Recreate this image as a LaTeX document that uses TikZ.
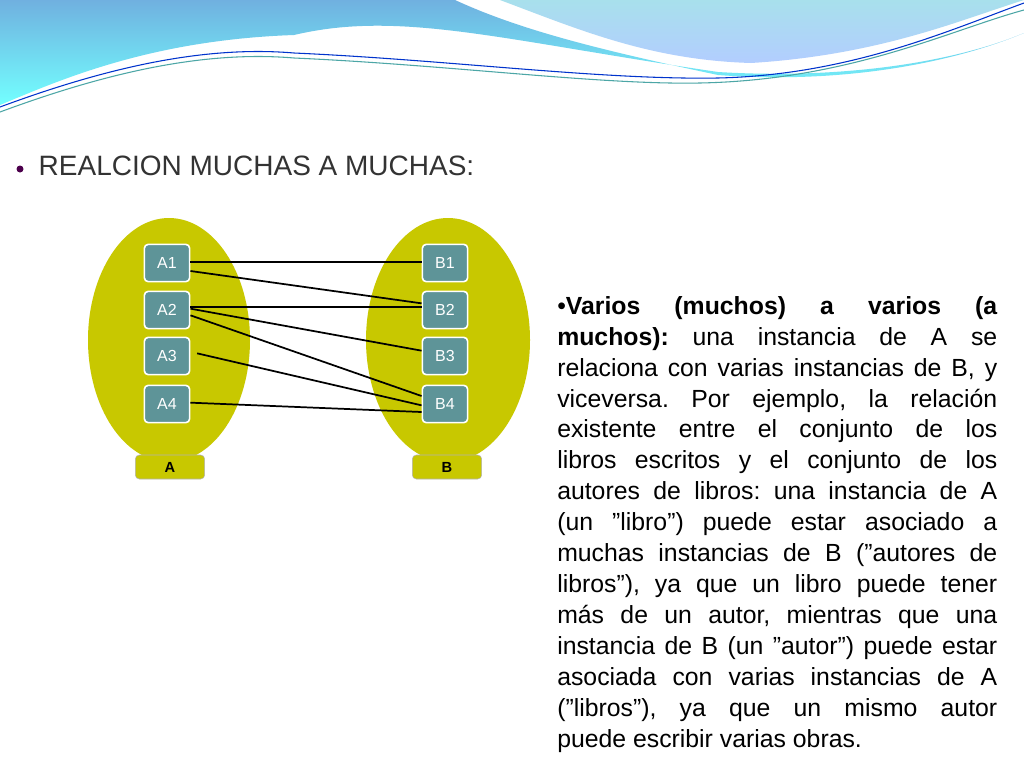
\documentclass[tikz,border=0pt]{standalone}
\usepackage{fontspec}
\defaultfontfeatures{}
\setmainfont{Liberation Sans}
\definecolor{ell}{HTML}{C8C800}
\definecolor{box}{HTML}{5E9498}
\definecolor{wave1}{HTML}{7CC4DC}
\definecolor{wave2}{HTML}{A8E0EC}
\begin{document}
\begin{tikzpicture}[x=0.75pt,y=-0.75pt,
  elem/.style={draw=white,line width=1.2pt,fill=box,rounded corners=3pt,minimum width=34pt,minimum height=28pt,text=white,font=\fontsize{12}{14}\selectfont},
  setl/.style={draw=gray!60,fill=ell,rounded corners=3pt,minimum width=52pt,minimum height=18pt,font=\bfseries\fontsize{11}{13}\selectfont},
  link/.style={line width=1.3pt}]
\useasboundingbox (0,0) rectangle (1024,768);
\fill[white] (0,0) rectangle (1024,768);
% header waves
\shade[top color=wave1!90!blue,bottom color=cyan!55] (0,0) -- (455,0) .. controls (520,30) and (600,50) .. (718,75) .. controls (850,85) and (960,60) .. (1024,33) .. controls (960,60) and (850,80) .. (718,72) .. controls (500,40) and (400,10) .. (294,35) .. controls (150,40) and (60,80) .. (0,105) -- cycle;
\shade[top color=wave2,bottom color=cyan!35!blue!30] (500,0) .. controls (580,30) and (650,60) .. (751,63) .. controls (880,55) and (960,20) .. (1024,0) -- cycle;
\draw[blue!60!teal,line width=0.8pt] (0,107) .. controls (100,70) and (200,45) .. (294,53) .. controls (450,60) and (600,80) .. (718,78) .. controls (850,75) and (950,30) .. (1024,3);
\draw[teal!70,line width=0.8pt] (0,112) .. controls (100,75) and (200,50) .. (294,58) .. controls (450,65) and (600,85) .. (700,83) .. controls (850,80) and (950,30) .. (1024,10);
% title
\fill[violet!60!black] (20,169) circle (3.5);
\node[anchor=west,text=black!80,font=\fontsize{21}{23}\selectfont] (title) at (34,166) {REALCION MUCHAS A MUCHAS:};
% sets
\fill[ell] (169,340) ellipse (81 and 122);
\fill[ell] (448,340) ellipse (82 and 122);
\foreach \i/\y in {1/263,2/310,3/356,4/404}{
  \node[elem] (A\i) at (167,\y) {A\i};
  \node[elem] (B\i) at (445,\y) {B\i};
}
\node[setl] (SA) at (170,467) {A};
\node[setl] (SB) at (447,467) {B};
\draw[link] ([yshift=1pt]A1.east) -- ([yshift=1pt]B1.west);
\draw[link] ([yshift=-6pt]A1.east) -- ([yshift=5pt]B2.west);
\draw[link] ([yshift=2pt]A2.east) -- ([yshift=2pt]B2.west);
\draw[link] ([yshift=1pt]A2.east) -- ([yshift=4pt]B3.west);
\draw[link] ([yshift=-4pt]A2.east) -- ([yshift=6pt]B4.west);
\draw[link] ([xshift=5pt,yshift=2pt]A3.east) -- ([yshift=-1pt]B4.west);
\draw[link] ([yshift=1pt]A4.east) -- ([yshift=-6pt]B4.west);
% paragraph
\node[anchor=north west,text width=330pt,align=justify,inner sep=0pt,font=\fontsize{18.6}{23.2}\selectfont] (para) at (557,296) {\frenchspacing\hyphenpenalty=10000\exhyphenpenalty=10000\hbadness=10000\hfuzz=20pt
\textbullet\textbf{Varios (muchos) a varios (a\linebreak muchos):} una instancia de A se\linebreak relaciona con varias instancias de B, y\linebreak viceversa. Por ejemplo, la relación\linebreak existente entre el conjunto de los\linebreak libros escritos y el conjunto de los\linebreak autores de libros: una instancia de A\linebreak (un "libro") puede estar asociado a\linebreak muchas instancias de B ("autores de\linebreak libros"), ya que un libro puede tener\linebreak más de un autor, mientras que una\linebreak instancia de B (un "autor") puede estar\linebreak asociada con varias instancias de A\linebreak ("libros"), ya que un mismo autor\linebreak puede escribir varias obras.};
\end{tikzpicture}
\end{document}
